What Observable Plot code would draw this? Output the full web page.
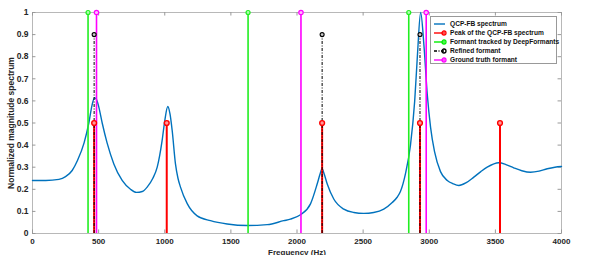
<!DOCTYPE html>
<html><head><meta charset="utf-8">
<script src="https://cdn.jsdelivr.net/npm/d3@7"></script>
<script src="https://cdn.jsdelivr.net/npm/@observablehq/plot@0.6"></script>
<style>
body{margin:0;background:#fff;font-family:"Liberation Sans",Arial,sans-serif;}
#wrap{position:relative;width:598px;height:255px;overflow:hidden;}
#legend{position:absolute;left:430px;top:16px;width:127px;height:48px;border:1px solid #999;background:#fff;box-sizing:border-box;font-size:6.6px;font-weight:bold;color:#111;}
#legend .row{position:absolute;left:2px;height:9px;display:flex;align-items:center;white-space:nowrap;}
#legend svg{margin-right:3px;flex:none;}
</style></head>
<body><div id="wrap"><div id="chart"></div><div id="legend"></div></div>
<script>
const freq = [0,100,200,250,300,340,390,426,450,469,485,501,527,564,615,678,741,786,830,867,910,943,980,1000,1023,1040,1056,1081,1100,1119,1170,1245,1346,1472,1623,1775,1900,1950,2026,2102,2153,2175,2190,2205,2228,2278,2354,2430,2505,2580,2656,2720,2757,2782,2820,2858,2890,2910,2935,2960,2985,3010,3040,3085,3136,3180,3224,3280,3337,3390,3438,3526,3580,3639,3700,3766,3830,3892,3950,4000];
const mag = [0.240,0.240,0.245,0.257,0.285,0.33,0.41,0.50,0.58,0.615,0.605,0.573,0.50,0.41,0.315,0.24,0.20,0.186,0.19,0.21,0.25,0.30,0.42,0.51,0.575,0.54,0.467,0.315,0.25,0.21,0.135,0.08,0.058,0.043,0.036,0.04,0.058,0.065,0.085,0.134,0.225,0.27,0.293,0.27,0.225,0.156,0.11,0.095,0.091,0.095,0.11,0.14,0.164,0.19,0.27,0.40,0.60,0.80,1.0,0.85,0.63,0.48,0.37,0.28,0.24,0.225,0.217,0.23,0.255,0.28,0.30,0.32,0.312,0.297,0.284,0.277,0.282,0.293,0.30,0.303];
const peakFreqs = [466,1015,2190,2930,3535];
const peakHeight = 0.5;
const deepFreqs = [420,1630,2845];
const deepHeight = 1;
const refinedFreqs = [466,2190,2930];
const refinedHeight = 0.9;
const truthFreqs = [484,2030,2977];
const truthHeight = 1;
const xTicks = [0,500,1000,1500,2000,2500,3000,3500,4000];
const yTicks = [0,0.1,0.2,0.3,0.4,0.5,0.6,0.7,0.8,0.9,1];
const legendItems = [
  {label:"QCP-FB spectrum", color:"#0072BD", dash:null, marker:false},
  {label:"Peak of the QCP-FB spectrum", color:"#ff0000", dash:null, marker:true},
  {label:"Formant tracked by DeepFormants", color:"#00ee00", dash:null, marker:true},
  {label:"Refined formant", color:"#000000", dash:"3,1.5,1,1.5", marker:true},
  {label:"Ground truth formant", color:"#ff00ff", dash:null, marker:true}
];

const spectrum = freq.map((f,i)=>({f, v:mag[i]}));
const stems = (fs,h)=>fs.map(f=>({f,h}));
const peaks = stems(peakFreqs,peakHeight), deep = stems(deepFreqs,deepHeight),
      refined = stems(refinedFreqs,refinedHeight), truth = stems(truthFreqs,truthHeight);
const tx = 26, ty = 0.016;

const chart = Plot.plot({
  width:598, height:255,
  marginLeft:32, marginRight:37, marginTop:12, marginBottom:22,
  style:{fontFamily:"Liberation Sans, Arial, sans-serif", fontSize:"8px", fontWeight:"bold", color:"#262626", background:"#fff"},
  x:{domain:[0,4000]}, y:{domain:[0,1]},
  marks:[
    Plot.frame({stroke:"#b8b8b8", strokeWidth:1}),
    Plot.ruleX(xTicks,{x:d=>d, y1:0, y2:ty, stroke:"#999"}),
    Plot.ruleX(xTicks,{x:d=>d, y1:1-ty, y2:1, stroke:"#999"}),
    Plot.ruleY(yTicks,{y:d=>d, x1:0, x2:tx, stroke:"#999"}),
    Plot.ruleY(yTicks,{y:d=>d, x1:4000-tx, x2:4000, stroke:"#999"}),
    Plot.axisX({ticks:xTicks, tickSize:0, tickPadding:5, tickFormat:d=>String(d), label:"Frequency (Hz)", labelAnchor:"center", labelArrow:"none", labelOffset:21, fontSize:8}),
    Plot.axisY({ticks:yTicks, tickSize:0, tickPadding:4, tickFormat:d=>String(+d.toFixed(1)), label:"Normalized magnitude spectrum", labelAnchor:"center", labelArrow:"none", labelOffset:25, fontSize:8.5}),
    Plot.line(spectrum,{x:"f", y:"v", stroke:"#0072BD", strokeWidth:1.4, curve:"monotone-x"}),
    Plot.ruleX(peaks,{x:"f", y1:0, y2:"h", stroke:"#ff0000", strokeWidth:2}),
    Plot.ruleX(deep,{x:"f", y1:0, y2:"h", stroke:"#22ee22", strokeWidth:1.6}),
    Plot.ruleX(refined,{x:"f", y1:0, y2:"h", stroke:"#000", strokeWidth:1, strokeDasharray:"3,1.5,1,1.5"}),
    Plot.ruleX(truth,{x:"f", y1:0, y2:"h", stroke:"#ff00ff", strokeWidth:1.6}),
    Plot.dot(peaks,{x:"f", y:"h", r:2.4, stroke:"#ff0000", fill:"#ff9999", strokeWidth:1.4}),
    Plot.dot(deep,{x:"f", y:"h", r:2, stroke:"#22ee22", fill:"#aaffaa", strokeWidth:1.2}),
    Plot.dot(refined,{x:"f", y:"h", r:2, stroke:"#000", fill:"#ccc", strokeWidth:1.1}),
    Plot.dot(truth,{x:"f", y:"h", r:2.2, stroke:"#ff00ff", fill:"#ffbbff", strokeWidth:1.2})
  ]
});
document.getElementById("chart").appendChild(chart);

const lg = document.getElementById("legend");
legendItems.forEach((it,i)=>{
  const row = document.createElement("div");
  row.className="row"; row.style.top=(2+i*9)+"px";
  const dash = it.dash ? `stroke-dasharray="${it.dash}"` : "";
  row.innerHTML = `<svg width="14" height="8"><line x1="1" y1="4" x2="12" y2="4" stroke="${it.color}" stroke-width="1.4" ${dash}/>`+
    (it.marker?`<circle cx="11" cy="4" r="2" fill="none" stroke="${it.color}" stroke-width="1.3"/>`:"")+
    `</svg><span>${it.label}</span>`;
  lg.appendChild(row);
});
</script></body></html>
